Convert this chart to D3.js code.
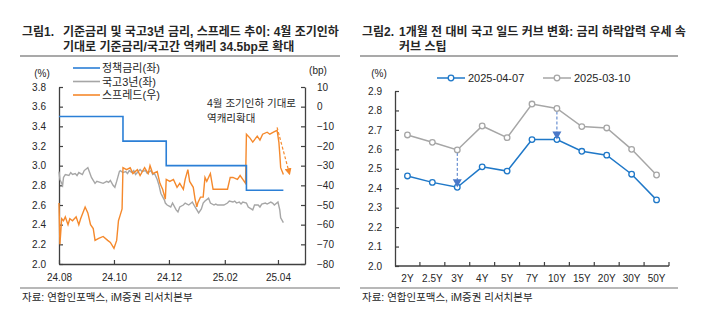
<!DOCTYPE html>
<html><head><meta charset="utf-8">
<script src="https://cdn.jsdelivr.net/npm/d3@7"></script>
<style>
body{margin:0;background:#fff;}
svg{display:block;font-family:'Liberation Sans','Noto Sans CJK KR',sans-serif;}
</style></head><body>
<svg id="c" width="720" height="323"></svg>
<script>
// ---------- Data: Figure 1 ----------
const policyDates = ["2024-08-01","2024-10-11","2024-11-28","2025-02-25","2025-04-07"];
const policyRate  = [3.50, 3.25, 3.00, 2.75, 2.75];

const ktbDates = ["2024-08-01","2024-08-02","2024-08-05","2024-08-06","2024-08-08","2024-08-12","2024-08-14","2024-08-16","2024-08-19","2024-08-21","2024-08-23","2024-08-27","2024-08-29","2024-09-02","2024-09-04","2024-09-06","2024-09-10","2024-09-12","2024-09-19","2024-09-23","2024-09-25","2024-09-27","2024-09-30","2024-10-02","2024-10-04","2024-10-07","2024-10-08","2024-10-11","2024-10-14","2024-10-16","2024-10-18","2024-10-21","2024-10-23","2024-10-25","2024-10-28","2024-10-30","2024-11-01","2024-11-05","2024-11-07","2024-11-11","2024-11-13","2024-11-15","2024-11-18","2024-11-20","2024-11-22","2024-11-26","2024-11-27","2024-11-29","2024-12-03","2024-12-05","2024-12-09","2024-12-11","2024-12-13","2024-12-17","2024-12-19","2024-12-23","2024-12-27","2024-12-30","2025-01-03","2025-01-06","2025-01-08","2025-01-10","2025-01-14","2025-01-16","2025-01-20","2025-01-22","2025-01-24","2025-01-31","2025-02-04","2025-02-06","2025-02-10","2025-02-12","2025-02-14","2025-02-17","2025-02-19","2025-02-21","2025-02-25","2025-02-27","2025-03-04","2025-03-06","2025-03-10","2025-03-12","2025-03-14","2025-03-18","2025-03-20","2025-03-24","2025-03-26","2025-03-28","2025-04-01","2025-04-03","2025-04-04","2025-04-07"];
const ktb3y = [2.94,2.86,2.80,2.88,2.91,2.90,2.93,2.91,2.92,2.90,2.93,2.91,2.95,2.98,2.93,2.88,2.82,2.84,2.82,2.84,2.83,2.85,2.80,2.78,2.84,2.94,2.95,2.93,2.94,2.92,2.95,2.93,2.95,2.91,2.94,2.96,2.94,2.95,2.92,2.95,2.91,2.92,2.86,2.80,2.72,2.65,2.62,2.60,2.58,2.62,2.55,2.53,2.58,2.60,2.62,2.60,2.63,2.58,2.52,2.56,2.62,2.64,2.67,2.62,2.60,2.61,2.60,2.60,2.62,2.64,2.63,2.64,2.62,2.63,2.61,2.63,2.62,2.58,2.55,2.60,2.60,2.58,2.61,2.62,2.61,2.63,2.62,2.60,2.63,2.55,2.47,2.42];

const spreadDates = ["2024-08-01","2024-08-02","2024-08-04","2024-08-06","2024-08-08","2024-08-11","2024-08-13","2024-08-16","2024-08-20","2024-08-23","2024-08-25","2024-08-30","2024-09-02","2024-09-05","2024-09-08","2024-09-10","2024-09-14","2024-09-19","2024-09-24","2024-09-27","2024-10-01","2024-10-04","2024-10-06","2024-10-08","2024-10-10","2024-10-11","2024-10-15","2024-10-19","2024-10-22","2024-10-27","2024-10-30","2024-11-04","2024-11-08","2024-11-10","2024-11-13","2024-11-18","2024-11-21","2024-11-24","2024-11-27","2024-11-28","2024-12-02","2024-12-06","2024-12-10","2024-12-13","2024-12-17","2024-12-19","2024-12-22","2024-12-24","2024-12-28","2024-12-30","2025-01-01","2025-01-02","2025-01-05","2025-01-08","2025-01-10","2025-01-12","2025-01-16","2025-01-19","2025-01-23","2025-01-28","2025-02-04","2025-02-07","2025-02-10","2025-02-15","2025-02-18","2025-02-21","2025-02-24","2025-02-25","2025-03-01","2025-03-04","2025-03-09","2025-03-12","2025-03-15","2025-03-20","2025-03-23","2025-03-27","2025-03-31","2025-04-02","2025-04-03","2025-04-04","2025-04-07"];
const spreadBp = [-49,-70,-57,-58,-56,-60,-57,-58,-56,-60,-57,-51,-54,-60,-62,-68,-67,-66,-68,-69,-72,-68,-58,-55,-52,-31,-32,-31,-34,-32,-35,-31,-34,-30,-34,-33,-39,-42,-47,-37,-38,-37,-41,-39,-42,-37,-32,-38,-41,-47,-51,-49,-46,-46,-36,-38,-34,-42,-42,-42,-42,-36,-36,-37,-35,-37,-39,-14,-16,-18,-15,-17,-14,-13,-14,-13,-12,-18,-24,-31,-34.5];

const fig1LeftTicks  = [2.0,2.2,2.4,2.6,2.8,3.0,3.2,3.4,3.6,3.8];
const fig1RightTicks = [-80,-70,-60,-50,-40,-30,-20,-10,0,10];
const fig1XTicks = ["2024-08-01","2024-10-01","2024-12-01","2025-02-01","2025-04-01"];
const fig1Legend = ["정책금리(좌)","국고3년(좌)","스프레드(우)"];

// ---------- Data: Figure 2 ----------
const tenors = ["2Y","2.5Y","3Y","4Y","5Y","7Y","10Y","15Y","20Y","30Y","50Y"];
const curve0407 = [2.463,2.430,2.405,2.510,2.488,2.650,2.650,2.590,2.570,2.472,2.340];
const curve0310 = [2.674,2.636,2.597,2.720,2.660,2.833,2.810,2.717,2.710,2.600,2.468];
const fig2Ticks = [2.0,2.1,2.2,2.3,2.4,2.5,2.6,2.7,2.8,2.9];
const arrowTenors = ["3Y","10Y"];
const fig2Legend = ["2025-04-07","2025-03-10"];

// ---------- Styles ----------
const C_BLUE = "#2b7fd6", C_GRAY = "#a6a6a6", C_ORANGE = "#f5892c", C_AXIS = "#404040", C_TEXT = "#262626";
const svg = d3.select("#c");
svg.append("rect").attr("width",720).attr("height",323).attr("fill","#fff");
const P = d3.timeParse("%Y-%m-%d");

// ---------- Titles / frame lines ----------
function title(x0, x1, num, lines){
  const g = svg.append("g");
  g.append("text").attr("x",x0+2).attr("y",36).attr("font-size",12).attr("font-weight","bold").attr("fill",C_TEXT).text(num);
  lines.forEach((t,i)=>g.append("text").attr("x",x0+(num==="그림1."?43:39)).attr("y",36+15*i).attr("font-size",12).attr("font-weight","bold").attr("fill",C_TEXT).text(t));
  g.append("line").attr("x1",x0).attr("x2",x1).attr("y1",56).attr("y2",56).attr("stroke","#8c8c8c").attr("stroke-width",1.5);
  g.append("line").attr("x1",x0).attr("x2",x1).attr("y1",288).attr("y2",288).attr("stroke","#a0a0a0").attr("stroke-width",1.5);
  g.append("text").attr("x",x0+2).attr("y",301).attr("font-size",10.5).attr("fill",C_TEXT).text("자료: 연합인포맥스, iM증권 리서치본부");
}
title(20,340,"그림1.",["기준금리 및 국고3년 금리, 스프레드 추이: 4월 조기인하","기대로 기준금리/국고간 역캐리 34.5bp로 확대"]);
title(360,678,"그림2.",["1개월 전 대비 국고 일드 커브 변화: 금리 하락압력 우세 속","커브 스팁"]);

// ---------- Figure 1 ----------
const x1 = d3.scaleTime().domain([P("2024-08-01"),P("2025-05-01")]).range([59,305]);
const yL = d3.scaleLinear().domain([2.0,3.8]).range([264,87]);
const yR = d3.scaleLinear().domain([-80,10]).range([264,87]);

function styleAxis(g){
  g.selectAll(".domain").attr("stroke",C_AXIS).attr("stroke-width",1.3);
  g.selectAll(".tick line").attr("stroke",C_AXIS).attr("stroke-width",1.2);
  g.selectAll(".tick text").attr("fill",C_TEXT).attr("font-size",10);
}
svg.append("g").attr("transform","translate(59,0)")
  .call(d3.axisLeft(yL).tickValues(fig1LeftTicks).tickFormat(d3.format(".1f")).tickSize(-4).tickSizeOuter(0).tickPadding(13))
  .call(styleAxis);
svg.append("g").attr("transform","translate(305,0)")
  .call(d3.axisRight(yR).tickValues(fig1RightTicks).tickFormat(d3.format("d")).tickSize(-4).tickSizeOuter(0).tickPadding(12))
  .call(styleAxis);
svg.append("g").attr("transform","translate(0,264)")
  .call(d3.axisBottom(x1).tickValues(fig1XTicks.map(P)).tickFormat(d3.timeFormat("%y.%m")).tickSize(-4).tickSizeOuter(0).tickPadding(10))
  .call(styleAxis);

svg.append("text").attr("x",42).attr("y",77).attr("font-size",10).attr("text-anchor","middle").attr("fill",C_TEXT).text("(%)");
svg.append("text").attr("x",318).attr("y",74).attr("font-size",10).attr("text-anchor","middle").attr("fill",C_TEXT).text("(bp)");

const ktb = ktbDates.map((d,i)=>({d:P(d),v:ktb3y[i]}));
const spr = spreadDates.map((d,i)=>({d:P(d),v:spreadBp[i]}));
const pol = policyDates.map((d,i)=>({d:P(d),v:policyRate[i]}));

svg.append("path").datum(ktb).attr("fill","none").attr("stroke",C_GRAY).attr("stroke-width",1.4)
  .attr("d",d3.line().x(d=>x1(d.d)).y(d=>yL(d.v)));
svg.append("path").datum(spr).attr("fill","none").attr("stroke",C_ORANGE).attr("stroke-width",1.4)
  .attr("d",d3.line().x(d=>x1(d.d)).y(d=>yR(d.v)));
svg.append("path").datum(pol).attr("fill","none").attr("stroke",C_BLUE).attr("stroke-width",1.6)
  .attr("d",d3.line().curve(d3.curveStepAfter).x(d=>x1(d.d)).y(d=>yL(d.v)));

// legend
const legColors = [C_BLUE,C_GRAY,C_ORANGE];
fig1Legend.forEach((t,i)=>{
  const y = 68+13.5*i;
  svg.append("line").attr("x1",73).attr("x2",100).attr("y1",y).attr("y2",y).attr("stroke",legColors[i]).attr("stroke-width",1.6);
  svg.append("text").attr("x",102).attr("y",y+4).attr("font-size",11).attr("fill",C_TEXT).text(t);
});

// annotation
svg.append("text").attr("x",207).attr("y",107).attr("font-size",10.5).attr("fill",C_TEXT).text("4월 조기인하 기대로");
svg.append("text").attr("x",207).attr("y",122).attr("font-size",10.5).attr("fill",C_TEXT).text("역캐리확대");
const defs = svg.append("defs");
defs.append("marker").attr("id","ah").attr("viewBox","0 0 10 10").attr("refX",9).attr("refY",5)
  .attr("markerWidth",7).attr("markerHeight",7).attr("orient","auto").attr("markerUnits","userSpaceOnUse")
  .append("path").attr("d","M0,0L10,5L0,10Z").attr("fill",C_ORANGE);
svg.append("line")
  .attr("x1",x1(P("2025-03-31"))).attr("y1",yR(-10.5))
  .attr("x2",x1(P("2025-04-14"))).attr("y2",yR(-34.5))
  .attr("stroke",C_ORANGE).attr("stroke-width",1.2).attr("stroke-dasharray","3,2").attr("marker-end","url(#ah)");

// ---------- Figure 2 ----------
const x2 = d3.scaleBand().domain(tenors).range([395,669]).padding(0);
const y2 = d3.scaleLinear().domain([2.0,2.9]).range([266,91]);
const cx = t=>x2(t)+x2.bandwidth()/2;

svg.append("g").attr("transform","translate(395,0)")
  .call(d3.axisLeft(y2).tickValues(fig2Ticks).tickFormat(d3.format(".1f")).tickSize(-4).tickSizeOuter(0).tickPadding(13))
  .call(styleAxis);
const xg = svg.append("g").attr("transform","translate(0,266)")
  .call(d3.axisBottom(x2).tickSize(0).tickPadding(9))
  .call(styleAxis);
xg.select(".domain").attr("d","M395,0H669");
xg.selectAll(".bnd").data(tenors.map(t=>x2(t)+x2.bandwidth()).filter((v,i)=>true)).enter()
  .append("line").attr("class","bnd").attr("x1",d=>d).attr("x2",d=>d).attr("y1",0).attr("y2",-4).attr("stroke",C_AXIS).attr("stroke-width",1.2);

svg.append("text").attr("x",379).attr("y",77).attr("font-size",10).attr("text-anchor","middle").attr("fill",C_TEXT).text("(%)");

const line2 = d3.line().x((d,i)=>cx(tenors[i])).y(d=>y2(d));
const series2 = [{v:curve0310,c:C_GRAY},{v:curve0407,c:"#1f78c8"}];
series2.forEach(s=>{
  svg.append("path").datum(s.v).attr("fill","none").attr("stroke",s.c).attr("stroke-width",1.5).attr("d",line2);
});

// arrows (dashed verticals)
const C_ARW = "#4a78c8";
arrowTenors.forEach(t=>{
  const i = tenors.indexOf(t);
  const xx = cx(t), ya = y2(curve0310[i]), yb = y2(curve0407[i]);
  svg.append("line").attr("x1",xx).attr("x2",xx).attr("y1",ya+3).attr("y2",yb-6).attr("stroke",C_ARW).attr("stroke-width",1).attr("stroke-dasharray","3,2");
});
series2.forEach(s=>{
  svg.append("g").selectAll("circle").data(s.v).enter().append("circle")
    .attr("cx",(d,i)=>cx(tenors[i])).attr("cy",d=>y2(d)).attr("r",2.8)
    .attr("fill","#fff").attr("stroke",s.c).attr("stroke-width",1.3);
});
arrowTenors.forEach(t=>{
  const i = tenors.indexOf(t);
  const xx = cx(t), yb = y2(curve0407[i]);
  svg.append("path").attr("d",`M${xx-4.5},${yb-8}L${xx+4.5},${yb-8}L${xx},${yb}Z`).attr("fill",C_ARW);
});

// legend fig2
const leg2 = [{x:437,c:"#1f78c8",t:fig2Legend[0]},{x:543,c:C_GRAY,t:fig2Legend[1]}];
leg2.forEach(l=>{
  svg.append("line").attr("x1",l.x).attr("x2",l.x+28).attr("y1",78).attr("y2",78).attr("stroke",l.c).attr("stroke-width",1.5);
  svg.append("circle").attr("cx",l.x+14).attr("cy",78).attr("r",2.8).attr("fill","#fff").attr("stroke",l.c).attr("stroke-width",1.3);
  svg.append("text").attr("x",l.x+31).attr("y",82).attr("font-size",11).attr("fill",C_TEXT).text(l.t);
});
</script>
</body></html>
